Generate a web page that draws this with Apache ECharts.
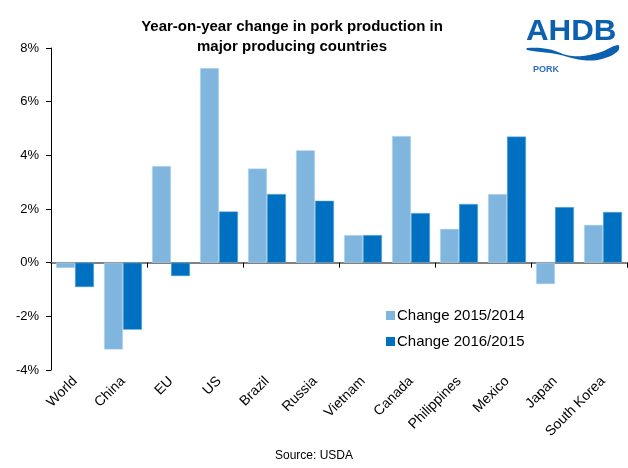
<!DOCTYPE html>
<html>
<head>
<meta charset="utf-8">
<script src="https://cdn.jsdelivr.net/npm/echarts@6/dist/echarts.min.js"></script>
<style>html,body{margin:0;padding:0;background:#fff;}#c{width:628px;height:468px;}</style>
</head>
<body>
<div id="c"></div>
<script>
var categories = ['World','China','EU','US','Brazil','Russia','Vietnam','Canada','Philippines','Mexico','Japan','South Korea'];
var change2015 = [-0.2, -3.24, 3.6, 7.25, 3.51, 4.19, 1.03, 4.72, 1.26, 2.56, -0.8, 1.41];
var change2016 = [-0.91, -2.5, -0.5, 1.91, 2.56, 2.31, 1.03, 1.85, 2.19, 4.7, 2.07, 1.89];
var seriesNames = ['Change 2015/2014', 'Change 2016/2015'];
var yTicks = {min: -4, max: 8, interval: 2};

var font = 'Liberation Sans, Arial, sans-serif';
var chart = echarts.init(document.getElementById('c'), null, {renderer: 'canvas'});
chart.setOption({
  animation: false,
  backgroundColor: '#fff',
  title: {
    text: 'Year-on-year change in pork production in\nmajor producing countries',
    left: 287, top: 12, textAlign: 'center',
    textStyle: {fontFamily: font, fontSize: 15, fontWeight: 'bold', color: '#000', lineHeight: 20}
  },
  legend: {
    data: seriesNames, orient: 'vertical', left: 381, top: 303,
    itemWidth: 9, itemHeight: 9, itemGap: 11, icon: 'rect',
    itemStyle: {borderWidth: 0},
    textStyle: {fontFamily: font, fontSize: 15, color: '#000', padding: [0, 0, 0, -3]}
  },
  grid: {left: 51, right: 1, top: 48, bottom: 98, containLabel: false},
  xAxis: [{
    type: 'category', data: categories,
    axisLine: {onZero: true, lineStyle: {color: '#808080', width: 2}},
    axisTick: {show: true, length: 5, lineStyle: {color: '#000'}},
    axisLabel: {show: false}
  }, {
    type: 'category', data: categories, position: 'bottom',
    axisLine: {show: false, onZero: false}, axisTick: {show: false},
    axisLabel: {rotate: 45, margin: 9, fontFamily: font, fontSize: 14, color: '#000', interval: 0}
  }],
  yAxis: {
    type: 'value', min: yTicks.min, max: yTicks.max, interval: yTicks.interval,
    axisLine: {show: true, lineStyle: {color: '#000', width: 1}},
    axisTick: {show: true, length: 5, lineStyle: {color: '#000'}},
    splitLine: {show: false},
    axisLabel: {formatter: '{value}%', fontFamily: font, fontSize: 13, color: '#000', margin: 12}
  },
  series: [{
    name: seriesNames[0], type: 'bar', data: change2015, barWidth: 19, barGap: '0%',
    itemStyle: {color: '#80B6DE', borderColor: '#C8E0F2', borderWidth: 0.5}
  }, {
    name: seriesNames[1], type: 'bar', data: change2016, barWidth: 19,
    itemStyle: {color: '#0070C0', borderColor: '#7FB2E0', borderWidth: 0.5}
  }],
  graphic: [
    {type: 'text', left: 'center', top: 450, style: {text: 'Source: USDA', font: '12px ' + font, fill: '#000'}},
    {type: 'text', x: 526, y: 17, scaleX: 1.08, style: {text: 'AHDB', font: 'bold 29px ' + font, fill: '#0C60B0'}},
    {type: 'polygon', shape: {smooth: 0.4, points: [[527,48],[548,49],[572,56],[598,53],[618,45],[618,51],[602,59],[582,60],[556,54],[527,50]]}, style: {fill: '#0C60B0'}},
    {type: 'text', x: 533, y: 65, style: {text: 'PORK', font: 'bold 9px ' + font, fill: '#2A70C0'}}
  ]
});
</script>
</body>
</html>
